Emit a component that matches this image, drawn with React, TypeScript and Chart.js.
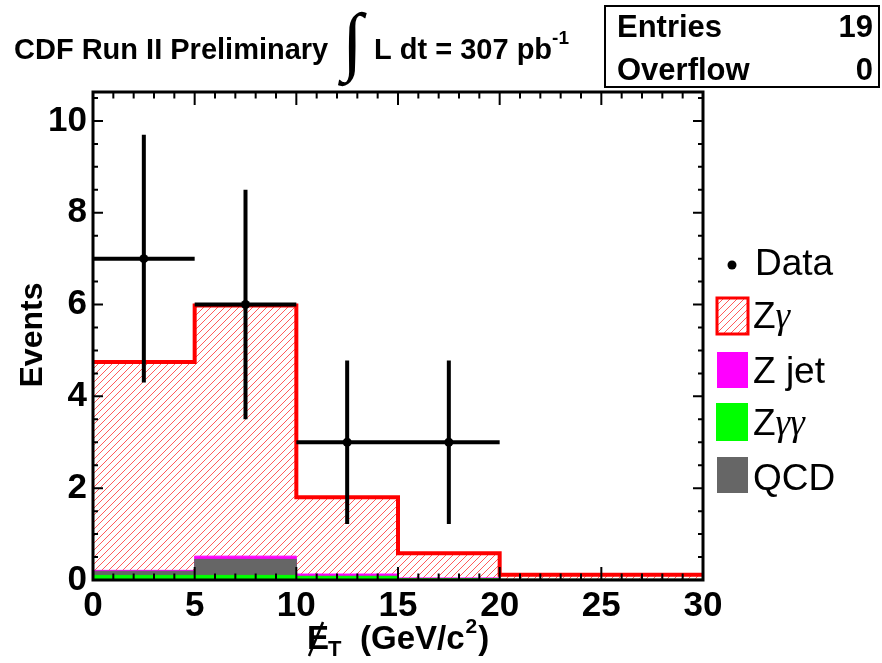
import React, { useEffect, useRef } from 'react';
import { Chart, registerables } from 'chart.js';

Chart.register(...registerables);

// Missing transverse energy histogram: bin edges (GeV/c^2)
const binEdges = [0, 5, 10, 15, 20, 30];

// Expected contributions per bin (events)
const zGamma = [4.54, 5.46, 1.67, 0.535, 0.1];
const zJet = [0.02, 0.07, 0.05, 0.02, 0.0];
const qcd = [0.09, 0.35, 0.0, 0.0, 0.0];
const zGammaGamma = [0.1, 0.1, 0.08, 0.025, 0.015];

// Observed data
const dataX = [2.5, 7.5, 12.5, 17.5];
const dataY = [7, 6, 3, 3];
const dataXErr = [2.5, 2.5, 2.5, 2.5];
const dataYErr = [2.7, 2.5, 1.78, 1.78];

// Axes
const xRange = [0, 30];
const yRange = [0, 10.63];
const xMajorStep = 5;
const xMinorDiv = 5;
const yMajorStep = 2;
const yMinorDiv = 4;

const entries = 19;
const overflow = 0;

const SANS = '"Liberation Sans", Arial, Helvetica, sans-serif';
const SERIF = '"Liberation Serif", "Times New Roman", serif';

const cumulative = (...parts: number[][]) =>
  parts[0].map((_, i) => parts.reduce((s, p) => s + p[i], 0));

// Step-histogram points: value i is held over [edge i, edge i+1]
const stepPoints = (values: number[]) =>
  binEdges.map((x, i) => ({ x, y: values[Math.min(i, values.length - 1)] }));

function makeHatch(ctx: CanvasRenderingContext2D): CanvasPattern | string {
  const size = 7;
  const tile = document.createElement('canvas');
  tile.width = size;
  tile.height = size;
  const g = tile.getContext('2d');
  if (!g) return 'rgba(255,0,0,0.15)';
  g.fillStyle = '#ffffff';
  g.fillRect(0, 0, size, size);
  g.strokeStyle = '#ff4a4a';
  g.lineWidth = 0.9;
  g.beginPath();
  g.moveTo(-1, size + 1);
  g.lineTo(size + 1, -1);
  g.moveTo(-1, 1);
  g.lineTo(1, -1);
  g.moveTo(size - 1, size + 1);
  g.lineTo(size + 1, size - 1);
  g.stroke();
  return ctx.createPattern(tile, 'repeat') ?? 'rgba(255,0,0,0.15)';
}

type Run = { text: string; font: string; dy?: number };

function drawRuns(ctx: CanvasRenderingContext2D, x: number, y: number, runs: Run[]) {
  let cx = x;
  for (const r of runs) {
    ctx.font = r.font;
    ctx.fillText(r.text, cx, y + (r.dy ?? 0));
    cx += ctx.measureText(r.text).width;
  }
  return cx;
}

export default function App() {
  const canvasRef = useRef<HTMLCanvasElement | null>(null);

  useEffect(() => {
    const canvas = canvasRef.current;
    if (!canvas) return;
    const ctx = canvas.getContext('2d');
    if (!ctx) return;
    const hatch = makeHatch(ctx);

    const c1 = cumulative(zGammaGamma);
    const c2 = cumulative(zGammaGamma, qcd);
    const c3 = cumulative(zGammaGamma, qcd, zJet);
    const c4 = cumulative(zGammaGamma, qcd, zJet, zGamma);

    // Error bars as one broken polyline
    const errPts: { x: number; y: number | null }[] = [];
    dataX.forEach((x, i) => {
      const y = dataY[i];
      errPts.push({ x: x - dataXErr[i], y }, { x: x + dataXErr[i], y }, { x, y: null });
      errPts.push({ x, y: y - dataYErr[i] }, { x, y: y + dataYErr[i] }, { x, y: null });
    });

    const histStyle = {
      stepped: true as const,
      pointRadius: 0,
      fill: 'origin' as const,
      borderJoinStyle: 'miter' as const,
      borderCapStyle: 'butt' as const,
      tension: 0,
    };

    const decor = {
      id: 'decor',
      afterDatasetsDraw(chart: Chart) {
        const { chartArea: a, scales } = chart;
        const c = chart.ctx;
        const xs = scales.x;
        const ys = scales.y;
        c.save();
        c.strokeStyle = '#000';
        c.lineWidth = 2;
        c.beginPath();
        const xMinor = xMajorStep / xMinorDiv;
        const nx = Math.round((xRange[1] - xRange[0]) / xMinor);
        for (let i = 0; i <= nx; i++) {
          const px = xs.getPixelForValue(xRange[0] + i * xMinor);
          const len = i % xMinorDiv === 0 ? 13 : 6.5;
          c.moveTo(px, a.bottom);
          c.lineTo(px, a.bottom - len);
          c.moveTo(px, a.top);
          c.lineTo(px, a.top + len);
        }
        const yMinor = yMajorStep / yMinorDiv;
        const ny = Math.floor((yRange[1] - yRange[0]) / yMinor + 1e-9);
        for (let i = 0; i <= ny; i++) {
          const py = ys.getPixelForValue(yRange[0] + i * yMinor);
          const len = i % yMinorDiv === 0 ? 10 : 5;
          c.moveTo(a.left, py);
          c.lineTo(a.left + len, py);
          c.moveTo(a.right, py);
          c.lineTo(a.right - len, py);
        }
        c.stroke();
        c.lineWidth = 3;
        c.strokeRect(a.left, a.top, a.right - a.left, a.bottom - a.top);
        c.restore();
      },
      afterDraw(chart: Chart) {
        const c = chart.ctx;
        c.save();
        c.fillStyle = '#000';
        c.textAlign = 'left';
        c.textBaseline = 'alphabetic';

        // Header
        const hb = `bold 29px ${SANS}`;
        drawRuns(c, 14, 59, [{ text: 'CDF Run II Preliminary', font: hb }]);
        c.font = `76px ${SERIF}`;
        c.fillText('\u222B', 342, 66);
        drawRuns(c, 374, 59, [
          { text: 'L dt = 307 pb', font: hb },
          { text: '-1', font: `bold 19px ${SANS}`, dy: -15 },
        ]);

        // Statistics box
        c.lineWidth = 2;
        c.strokeStyle = '#000';
        c.strokeRect(605, 6, 274, 81);
        c.font = `bold 31px ${SANS}`;
        c.fillText('Entries', 617, 37);
        c.fillText('Overflow', 617, 80);
        c.textAlign = 'right';
        c.fillText(String(entries), 873, 37);
        c.fillText(String(overflow), 873, 80);
        c.textAlign = 'left';

        // Axis titles
        c.save();
        c.translate(42, 335);
        c.rotate(-Math.PI / 2);
        c.textAlign = 'center';
        c.font = `bold 32px ${SANS}`;
        c.fillText('Events', 0, 0);
        c.restore();

        const tb = 649;
        const tf = `bold 33px ${SANS}`;
        c.font = tf;
        c.fillText('E', 307, tb);
        c.lineWidth = 2.5;
        c.beginPath();
        c.moveTo(309, tb + 7);
        c.lineTo(323, tb - 27);
        c.stroke();
        drawRuns(c, 328, tb + 7, [{ text: 'T', font: `bold 22px ${SANS}` }]);
        let x = drawRuns(c, 360, tb, [{ text: '(GeV/c', font: tf }]);
        x = drawRuns(c, x + 1, tb - 16, [{ text: '2', font: `bold 21px ${SANS}` }]);
        drawRuns(c, x + 1, tb, [{ text: ')', font: tf }]);

        // Legend
        const lf = `37px ${SANS}`;
        const gf = `italic 37px ${SERIF}`;
        c.beginPath();
        c.arc(732, 265, 4.5, 0, Math.PI * 2);
        c.fill();
        drawRuns(c, 755, 275, [{ text: 'Data', font: lf }]);

        c.fillStyle = hatch;
        c.fillRect(717, 298, 31, 36);
        c.strokeStyle = '#ff0000';
        c.lineWidth = 3;
        c.strokeRect(717, 298, 31, 36);
        c.fillStyle = '#000';
        drawRuns(c, 753, 328, [
          { text: 'Z', font: lf },
          { text: '\u03B3', font: gf },
        ]);

        c.fillStyle = '#ff00ff';
        c.fillRect(717, 352, 31, 36);
        c.fillStyle = '#000';
        drawRuns(c, 753, 383, [{ text: 'Z jet', font: lf }]);

        c.fillStyle = '#00ff00';
        c.fillRect(716, 403, 32, 38);
        c.fillStyle = '#000';
        drawRuns(c, 753, 435, [
          { text: 'Z', font: lf },
          { text: '\u03B3\u03B3', font: gf },
        ]);

        c.fillStyle = '#666666';
        c.fillRect(717, 457, 31, 36);
        c.fillStyle = '#000';
        drawRuns(c, 753, 490, [{ text: 'QCD', font: lf }]);

        c.restore();
      },
    };

    const chart = new Chart(ctx, {
      type: 'line',
      data: {
        datasets: [
          {
            label: 'Z\u03B3',
            data: stepPoints(c4),
            borderColor: '#ff0000',
            borderWidth: 4,
            backgroundColor: hatch,
            order: 6,
            ...histStyle,
          },
          {
            label: 'Z jet',
            data: stepPoints(c3),
            borderColor: '#ff00ff',
            borderWidth: 1,
            backgroundColor: '#ff00ff',
            order: 5,
            ...histStyle,
          },
          {
            label: 'QCD',
            data: stepPoints(c2),
            borderColor: '#666666',
            borderWidth: 1,
            backgroundColor: '#666666',
            order: 4,
            ...histStyle,
          },
          {
            label: 'Z\u03B3\u03B3',
            data: stepPoints(c1),
            borderColor: '#00ff00',
            borderWidth: 1,
            backgroundColor: '#00ff00',
            order: 3,
            ...histStyle,
          },
          {
            label: 'Data errors',
            data: errPts as any,
            borderColor: '#000',
            borderWidth: 4,
            borderCapStyle: 'butt',
            pointRadius: 0,
            spanGaps: false,
            fill: false,
            tension: 0,
            order: 2,
          },
          {
            label: 'Data',
            data: dataX.map((x, i) => ({ x, y: dataY[i] })),
            showLine: false,
            pointRadius: 4.5,
            pointBackgroundColor: '#000',
            pointBorderColor: '#000',
            pointBorderWidth: 0,
            order: 1,
          },
        ],
      },
      options: {
        responsive: false,
        animation: false,
        devicePixelRatio: 1,
        layout: { padding: { top: 92, right: 179, left: 0, bottom: 0 } },
        plugins: {
          legend: { display: false },
          tooltip: { enabled: false },
          title: { display: false },
        },
        events: [],
        scales: {
          x: {
            type: 'linear',
            min: xRange[0],
            max: xRange[1],
            grid: { display: false, drawTicks: false },
            border: { display: false },
            ticks: {
              stepSize: xMajorStep,
              includeBounds: false,
              padding: 5,
              color: '#000',
              maxRotation: 0,
              autoSkip: false,
              font: { family: SANS, weight: 'bold', size: 35 },
            },
            afterFit: (s: any) => {
              s.height = 83;
            },
          },
          y: {
            type: 'linear',
            min: yRange[0],
            max: yRange[1],
            grid: { display: false, drawTicks: false },
            border: { display: false },
            ticks: {
              stepSize: yMajorStep,
              includeBounds: false,
              padding: 6,
              color: '#000',
              font: { family: SANS, weight: 'bold', size: 35 },
            },
            afterFit: (s: any) => {
              s.width = 93;
            },
          },
        },
      },
      plugins: [decor],
    });

    return () => chart.destroy();
  }, []);

  return (
    <div style={{ position: 'absolute', left: 0, top: 0, width: 882, height: 663, background: '#fff' }}>
      <canvas ref={canvasRef} width={882} height={663} style={{ display: 'block' }} />
    </div>
  );
}
